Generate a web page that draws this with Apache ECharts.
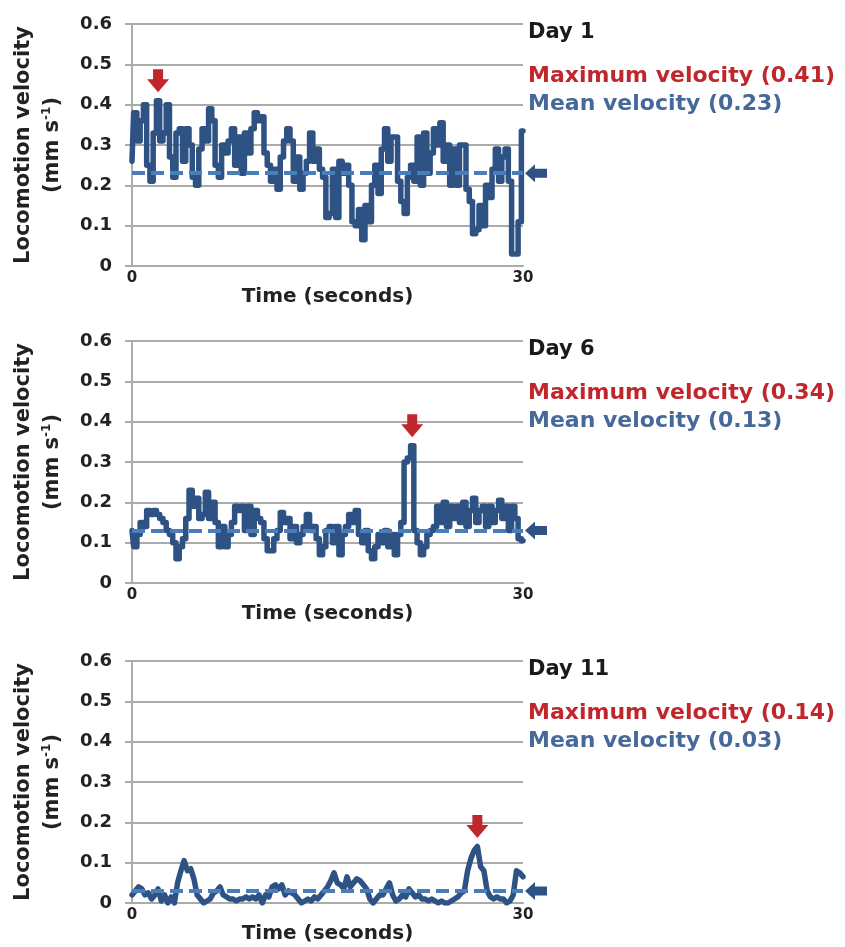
<!DOCTYPE html>
<html>
<head>
<meta charset="utf-8">
<script src="https://cdn.jsdelivr.net/npm/echarts@6/dist/echarts.min.js"></script>
<style>
  html, body { margin: 0; padding: 0; background: #ffffff; }
  #chart { width: 845px; height: 947px; }
</style>
</head>
<body>
<div id="chart"></div>
<script>
// Locomotion velocity traces over a 30 s recording, one panel per day.
const SAMPLE_STEP = 0.25; // seconds between velocity samples

const dayLabels = ['Day 1', 'Day 6', 'Day 11'];
const maxVelocity = [0.41, 0.34, 0.14];
const meanVelocity = [0.23, 0.13, 0.03];

const yTickLabels = ['0', '0.1', '0.2', '0.3', '0.4', '0.5', '0.6'];
const xTickLabels = ['0', '30'];

const velocityDay1 = [
  0.26, 0.38, 0.31, 0.36, 0.40, 0.25, 0.21, 0.33, 0.41, 0.31,
  0.33, 0.40, 0.27, 0.22, 0.33, 0.34, 0.26, 0.34, 0.30, 0.22,
  0.20, 0.29, 0.34, 0.31, 0.39, 0.36, 0.25, 0.22, 0.30, 0.28,
  0.31, 0.34, 0.25, 0.32, 0.23, 0.33, 0.28, 0.34, 0.38, 0.36,
  0.37, 0.28, 0.25, 0.21, 0.24, 0.19, 0.27, 0.31, 0.34, 0.31,
  0.21, 0.27, 0.19, 0.23, 0.26, 0.33, 0.26, 0.29, 0.24, 0.22,
  0.12, 0.13, 0.24, 0.12, 0.26, 0.23, 0.25, 0.20, 0.11, 0.10,
  0.14, 0.065, 0.15, 0.11, 0.20, 0.25, 0.18, 0.29, 0.34, 0.26,
  0.32, 0.32, 0.21, 0.16, 0.13, 0.22, 0.25, 0.21, 0.32, 0.20,
  0.33, 0.23, 0.28, 0.34, 0.30, 0.355, 0.26, 0.30, 0.20, 0.29,
  0.20, 0.30, 0.30, 0.19, 0.16, 0.08, 0.09, 0.15, 0.10, 0.20,
  0.17, 0.24, 0.29, 0.21, 0.27, 0.29, 0.21, 0.03, 0.03, 0.11,
  0.335
];

const velocityDay6 = [
  0.13, 0.09, 0.12, 0.15, 0.14, 0.18, 0.17, 0.18, 0.17, 0.16,
  0.15, 0.13, 0.12, 0.10, 0.06, 0.09, 0.11, 0.16, 0.23, 0.19,
  0.21, 0.16, 0.17, 0.225, 0.16, 0.20, 0.15, 0.09, 0.14, 0.09,
  0.12, 0.15, 0.19, 0.18, 0.19, 0.13, 0.19, 0.12, 0.18, 0.16,
  0.15, 0.11, 0.08, 0.08, 0.11, 0.13, 0.175, 0.15, 0.16, 0.11,
  0.14, 0.10, 0.12, 0.14, 0.17, 0.13, 0.14, 0.11, 0.07, 0.09,
  0.13, 0.14, 0.10, 0.14, 0.07, 0.12, 0.14, 0.17, 0.15, 0.18,
  0.12, 0.10, 0.13, 0.08, 0.06, 0.09, 0.12, 0.10, 0.13, 0.09,
  0.12, 0.07, 0.12, 0.15, 0.30, 0.31, 0.34, 0.13, 0.10, 0.07,
  0.09, 0.12, 0.13, 0.14, 0.19, 0.15, 0.20, 0.14, 0.19, 0.16,
  0.19, 0.15, 0.20, 0.14, 0.18, 0.21, 0.15, 0.18, 0.19, 0.14,
  0.19, 0.15, 0.18, 0.205, 0.16, 0.19, 0.13, 0.19, 0.16, 0.11,
  0.105
];

const velocityDay11 = [
  0.02, 0.03, 0.04, 0.035, 0.02, 0.025, 0.01, 0.02, 0.035, 0.005,
  0.02, 0.0, 0.015, 0.0, 0.05, 0.08, 0.105, 0.08, 0.085, 0.06,
  0.02, 0.01, 0.0, 0.005, 0.01, 0.025, 0.03, 0.04, 0.02, 0.015,
  0.01, 0.01, 0.005, 0.01, 0.01, 0.015, 0.01, 0.015, 0.01, 0.02,
  0.0, 0.02, 0.015, 0.04, 0.045, 0.035, 0.045, 0.02, 0.03, 0.025,
  0.02, 0.01, 0.0, 0.005, 0.01, 0.005, 0.015, 0.01, 0.02, 0.03,
  0.04, 0.055, 0.075, 0.05, 0.045, 0.035, 0.065, 0.04, 0.05, 0.06,
  0.055, 0.045, 0.035, 0.01, 0.0, 0.01, 0.02, 0.02, 0.035, 0.05,
  0.02, 0.005, 0.01, 0.02, 0.015, 0.035, 0.025, 0.015, 0.02, 0.01,
  0.01, 0.005, 0.01, 0.005, 0.0, 0.005, 0.0, 0.0, 0.005, 0.01,
  0.015, 0.025, 0.03, 0.08, 0.11, 0.13, 0.14, 0.09, 0.08, 0.03,
  0.015, 0.01, 0.015, 0.01, 0.01, 0.0, 0.005, 0.02, 0.08, 0.075,
  0.065
];

const traces = [velocityDay1, velocityDay6, velocityDay11];
// the faster days are drawn as sample-and-hold steps, the slow day as a plain trace
const traceStep = ['middle', 'middle', false];

// ---- styling / layout ----
const FONT = 'DejaVu Sans';
const TRACE_COLOR = '#2d5283';
const MEAN_COLOR = '#4a7ebb';
const MAX_COLOR = '#c0272d';
const MEAN_TEXT_COLOR = '#47699a';
const GRID_COLOR = '#ababab';
const TEXT_COLOR = '#222222';
const PANEL_TOPS = [24, 341, 661];
const PANEL_LEFT = 132;
const PANEL_WIDTH = 391;
const PANEL_HEIGHT = 242;

const DOWN_ARROW = 'path://M6,0L16,0L16,10L22,10L11,23L0,10L6,10Z';
const LEFT_ARROW = 'path://M0,9L10,0L10,4.5L22,4.5L22,13.5L10,13.5L10,18Z';

const chart = echarts.init(document.getElementById('chart'), null, { renderer: 'canvas' });

const grids = [], xAxes = [], yAxes = [], series = [], graphics = [];

traces.forEach((values, p) => {
  const time = values.map((_, i) => +(i * SAMPLE_STEP).toFixed(2));
  let k = 0;
  values.forEach((v, i) => { if (v > values[k]) k = i; });

  grids.push({ left: PANEL_LEFT, top: PANEL_TOPS[p], width: PANEL_WIDTH, height: PANEL_HEIGHT });

  xAxes.push({
    gridIndex: p, type: 'value', min: 0, max: 30, interval: 30,
    name: 'Time (seconds)', nameLocation: 'middle', nameGap: 17,
    nameTextStyle: { fontFamily: FONT, fontWeight: 'bold', fontSize: 20, color: TEXT_COLOR },
    axisLine: { show: true, lineStyle: { color: GRID_COLOR, width: 2 } },
    axisTick: { show: false },
    splitLine: { show: false },
    axisLabel: {
      margin: 5, fontFamily: FONT, fontWeight: 'bold', fontSize: 15, color: TEXT_COLOR,
      formatter: v => xTickLabels[v === 0 ? 0 : 1]
    }
  });

  yAxes.push({
    gridIndex: p, type: 'value', min: 0, max: 0.6, interval: 0.1,
    name: '{n|Locomotion velocity}\n{n|(mm s}{sup|-1}{n|)}',
    nameLocation: 'middle', nameRotate: 90, nameGap: 65,
    nameTextStyle: {
      fontFamily: FONT, fontWeight: 'bold', fontSize: 21, color: TEXT_COLOR, lineHeight: 29,
      rich: {
        n: { fontFamily: FONT, fontWeight: 'bold', fontSize: 21, color: TEXT_COLOR, lineHeight: 29 },
        sup: { fontFamily: FONT, fontWeight: 'bold', fontSize: 12, color: TEXT_COLOR, lineHeight: 12,
               verticalAlign: 'top', padding: [3, 0, 0, 0] }
      }
    },
    axisLine: { show: true, lineStyle: { color: GRID_COLOR, width: 2 } },
    axisTick: { show: true, inside: false, length: 7, lineStyle: { color: GRID_COLOR, width: 2 } },
    splitLine: { show: true, lineStyle: { color: GRID_COLOR, width: 2 } },
    axisLabel: {
      margin: 20, fontFamily: FONT, fontWeight: 'bold', fontSize: 18, color: TEXT_COLOR,
      formatter: v => yTickLabels[Math.round(v * 10)]
    }
  });

  series.push({
    type: 'line', xAxisIndex: p, yAxisIndex: p,
    data: time.map((t, i) => [t, values[i]]),
    step: traceStep[p],
    showSymbol: false, symbol: 'none',
    lineStyle: { color: TRACE_COLOR, width: 5.5, join: 'round', cap: 'round' },
    silent: true, z: 2,
    markLine: {
      silent: true, symbol: 'none', z: 5,
      label: { show: false },
      lineStyle: { color: MEAN_COLOR, width: 4, type: [13, 6] },
      data: [{ yAxis: meanVelocity[p] }]
    },
    markPoint: {
      silent: true, z: 6,
      label: { show: false },
      data: [
        { coord: [time[k], maxVelocity[p]], symbol: DOWN_ARROW, symbolSize: [22, 23],
          symbolOffset: [0, -20], itemStyle: { color: MAX_COLOR } },
        { coord: [30, meanVelocity[p]], symbol: LEFT_ARROW, symbolSize: [22, 18],
          symbolOffset: [13, 0], itemStyle: { color: TRACE_COLOR } }
      ]
    }
  });

  const top = PANEL_TOPS[p];
  graphics.push(
    { type: 'text', x: 528, y: top + 8.5, silent: true,
      style: { text: dayLabels[p], fill: '#1a1a1a', font: `bold 21px "${FONT}"`, verticalAlign: 'middle' } },
    { type: 'text', x: 528, y: top + 52, silent: true,
      style: { text: `Maximum velocity (${maxVelocity[p].toFixed(2)})`, fill: MAX_COLOR,
               font: `bold 22px "${FONT}"`, verticalAlign: 'middle' } },
    { type: 'text', x: 528, y: top + 80, silent: true,
      style: { text: `Mean velocity (${meanVelocity[p].toFixed(2)})`, fill: MEAN_TEXT_COLOR,
               font: `bold 22px "${FONT}"`, verticalAlign: 'middle' } }
  );
});

chart.setOption({
  backgroundColor: '#ffffff',
  animation: false,
  grid: grids,
  xAxis: xAxes,
  yAxis: yAxes,
  series: series,
  graphic: graphics
});
</script>
</body>
</html>
